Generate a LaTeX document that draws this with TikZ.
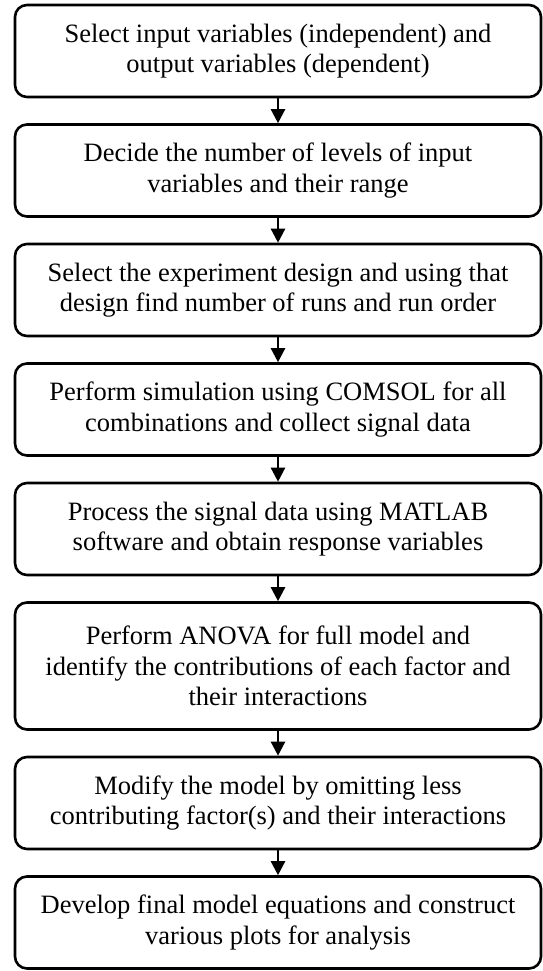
\documentclass[tikz,border=0pt]{standalone}
\usepackage{fontspec}
\setmainfont{Liberation Serif}
\usetikzlibrary{arrows.meta}
\begin{document}
\begin{tikzpicture}[x=1pt,y=-1pt,
  box/.style={draw=black,line width=2.6pt,rounded corners=12pt,minimum width=526pt,inner sep=0pt,align=center,
    font=\fontsize{26.5}{30.5}\selectfont},
  two/.style={box,minimum height=92pt},
  three/.style={box,minimum height=127pt},
  arr/.style={line width=2.4pt,-{Triangle[width=14pt,length=14pt]}}]
\useasboundingbox (0,0) rectangle (543,971);
\node[two] (b1) at (278,51) {Select input variables (independent) and\\output variables (dependent)};
\node[two] (b2) at (278,170.5) {Decide the number of levels of input\\variables and their range};
\node[two] (b3) at (278,290) {Select the experiment design and using that\\design find number of runs and run order};
\node[two] (b4) at (278,409.5) {Perform simulation using COMSOL for all\\combinations and collect signal data};
\node[two] (b5) at (278,529) {Process the signal data using MATLAB\\software and obtain response variables};
\node[three] (b6) at (278,666) {Perform ANOVA for full model and\\identify the contributions of each factor and\\their interactions};
\node[two] (b7) at (278,803) {Modify the model by omitting less\\contributing factor(s) and their interactions};
\node[two] (b8) at (278,922.5) {Develop final model equations and construct\\various plots for analysis};
\foreach \a/\b in {b1/b2,b2/b3,b3/b4,b4/b5,b5/b6,b6/b7,b7/b8}
  \draw[arr] (\a) -- (\b);
\end{tikzpicture}
\end{document}
